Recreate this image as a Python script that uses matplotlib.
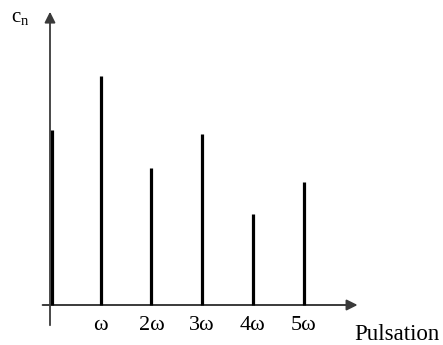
import matplotlib
matplotlib.use("Agg")
import matplotlib.pyplot as plt

plt.rcParams['font.family'] = ['Liberation Serif', 'DejaVu Serif']
plt.rcParams['mathtext.fontset'] = 'custom'
plt.rcParams['mathtext.rm'] = 'Liberation Serif'

# ---------------- DATA ----------------
harmonics = [0, 1, 2, 3, 4, 5]
amplitudes = [3.5, 4.58, 2.74, 3.42, 1.82, 2.46]
tick_labels = ["ω", "2ω", "3ω", "4ω", "5ω"]

# ---------------- FIGURE ----------------
fig = plt.figure(figsize=(4.43, 3.45), dpi=100)
ax = fig.add_axes([0, 0, 1, 1])
ax.set_xlim(-0.986, 7.75)
ax.set_ylim(-0.8, 6.1)
ax.axis("off")

# spectral lines (c0 sits just right of the vertical axis)
xs = [h + (0.03 if h == 0 else 0) for h in harmonics]
ax.vlines(xs, 0, amplitudes, colors="black", linewidth=2.3, zorder=3)

# axes with arrows
axis_col = "#3a3a3a"
ax.annotate("", xy=(6.12, 0), xytext=(-0.2, 0), zorder=2,
            arrowprops=dict(arrowstyle="-|>", color=axis_col, lw=1.4, mutation_scale=16))
ax.annotate("", xy=(0, 5.92), xytext=(0, -0.46), zorder=2,
            arrowprops=dict(arrowstyle="-|>", color=axis_col, lw=1.3, mutation_scale=16))

# labels
for n, lab in zip(harmonics[1:], tick_labels):
    ax.text(n, -0.4, lab, ha="center", va="center", fontsize=16)
ax.text(6.0, -0.58, "Pulsation", ha="left", va="center", fontsize=16.5)
ax.text(-0.58, 5.75, r"$\mathrm{c_n}$", ha="center", va="center", fontsize=15)

fig.savefig("out.png", dpi=100)
